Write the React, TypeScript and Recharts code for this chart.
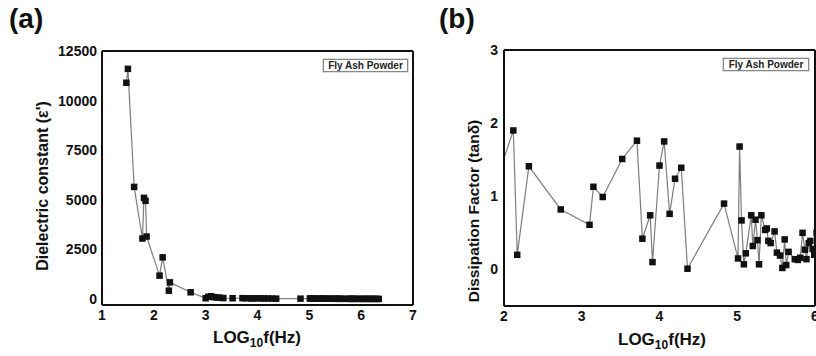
import { LineChart, Line, XAxis, YAxis } from 'recharts';

// (a) dielectric constant vs log frequency
const freqA = [
  1.47, 1.5, 1.62, 1.78, 1.81, 1.84, 1.86, 2.11, 2.17, 2.29, 2.31, 2.71,
  3.0, 3.05, 3.1, 3.15, 3.21, 3.27, 3.34, 3.52, 3.71, 3.78, 3.88, 3.91, 4.0,
  4.06, 4.13, 4.2, 4.28, 4.36, 4.83, 5.01, 5.03, 5.06, 5.09, 5.11, 5.18, 5.2,
  5.24, 5.26, 5.28, 5.31, 5.36, 5.4, 5.43, 5.48, 5.51, 5.55, 5.58, 5.61, 5.66,
  5.74, 5.78, 5.81, 5.84, 5.87, 5.92, 5.97, 6.02, 6.06, 6.1, 6.14, 6.18, 6.22,
  6.26, 6.3, 6.34,
];
const epsA = [
  10900, 11600, 5650, 3050, 5100, 4950, 3150, 1180, 2100, 420, 840, 340,
  40, 110, 140, 100, 80, 70, 50, 40, 45, 40, 35, 30, 40,
  35, 30, 30, 25, 20, 20, 25, 30, 25, 20, 20, 20, 18,
  18, 16, 16, 15, 15, 15, 14, 14, 13, 13, 12, 12, 12,
  11, 11, 11, 10, 10, 10, 10, 9, 9, 9, 8, 8, 8,
  8, 7, 7,
];

// (b) dissipation factor vs log frequency
const freqB = [
  1.9, 2.12, 2.17, 2.32, 2.73, 3.1, 3.15, 3.27, 3.52, 3.71, 3.78, 3.88, 3.91,
  4.0, 4.06, 4.13, 4.2, 4.28, 4.36, 4.83, 5.01, 5.03, 5.055, 5.085, 5.11, 5.18,
  5.2, 5.235, 5.26, 5.28, 5.31, 5.36, 5.38, 5.4, 5.43, 5.48, 5.51, 5.55, 5.58,
  5.61, 5.63, 5.66, 5.74, 5.78, 5.81, 5.84, 5.87, 5.89, 5.92, 5.94, 5.97, 5.99,
  6.02, 6.05,
];
const tanB = [
  1.2, 1.9, 0.2, 1.41, 0.82, 0.61, 1.13, 0.99, 1.51, 1.76, 0.42, 0.74, 0.1,
  1.42, 1.75, 0.76, 1.24, 1.39, 0.01, 0.9, 0.15, 1.68, 0.67, 0.07, 0.22, 0.74,
  0.32, 0.68, 0.4, 0.07, 0.74, 0.54, 0.56, 0.39, 0.36, 0.52, 0.23, 0.19, 0.02,
  0.41, 0.06, 0.24, 0.14, 0.13, 0.16, 0.5, 0.27, 0.14, 0.36, 0.39, 0.28, 0.2,
  0.5, 0.3,
];

const xTicksA = [1, 1.5, 2, 2.5, 3, 3.5, 4, 4.5, 5, 5.5, 6, 6.5, 7];
const xLabelsA = [1, 2, 3, 4, 5, 6, 7];
const yTicksA = [0, 1250, 2500, 3750, 5000, 6250, 7500, 8750, 10000, 11250, 12500];
const yLabelsA = [0, 2500, 5000, 7500, 10000, 12500];

const xTicksB = [2, 2.5, 3, 3.5, 4, 4.5, 5, 5.5, 6];
const xLabelsB = [2, 3, 4, 5, 6];
const yTicksB = [0, 0.5, 1, 1.5, 2, 2.5, 3];
const yLabelsB = [0, 1, 2, 3];

const FONT = '"Liberation Sans", Arial, sans-serif';
const frame = { stroke: '#111', strokeWidth: 2 };
const tickLn = { stroke: '#111', strokeWidth: 1.5 };
const tickFont = { fill: '#111', fontSize: 14, fontWeight: 700, fontFamily: FONT };

const Square = (props: any) => {
  const { cx, cy, index } = props;
  if (cx == null || cy == null) return <g key={index} />;
  return <rect key={index} x={cx - 3.25} y={cy - 3.25} width={6.5} height={6.5} fill="#111" />;
};

const only = (labels: number[]) => (v: number) => (labels.includes(v) ? String(v) : '');

function Panel(p: any) {
  const data = p.xs.map((x: number, i: number) => ({ x, y: p.ys[i] }));
  const xCommon = {
    dataKey: 'x', type: 'number' as const, domain: p.xDomain, allowDataOverflow: true,
    ticks: p.xTicks, interval: 0 as const, axisLine: frame,
  };
  const yCommon = {
    type: 'number' as const, domain: p.yDomain, allowDataOverflow: true,
    ticks: p.yTicks, interval: 0 as const, axisLine: frame,
  };
  return (
    <LineChart width={420} height={356} data={data} margin={p.margin}>
      {/* labelled axes */}
      <XAxis {...xCommon} xAxisId="b" tickFormatter={only(p.xLabels)}
        tickSize={0} tickMargin={5} height={30} tickLine={false} tick={tickFont} />
      <YAxis {...yCommon} yAxisId="l" tickFormatter={only(p.yLabels)}
        tickSize={0} tickMargin={p.yMargin} width={60} tickLine={false} tick={tickFont} />
      {/* mirrored axes: inward ticks on all four sides */}
      <XAxis {...xCommon} xAxisId="bm" mirror tick={false} tickSize={4} tickLine={tickLn} />
      <YAxis {...yCommon} yAxisId="lm" mirror tick={false} tickSize={4} tickLine={tickLn} />
      <XAxis {...xCommon} xAxisId="t" orientation="top" mirror tick={false} tickSize={4} tickLine={tickLn} />
      <YAxis {...yCommon} yAxisId="r" orientation="right" mirror tick={false} tickSize={4} tickLine={tickLn} />

      <Line xAxisId="bm" yAxisId="lm" dataKey="y" stroke="none" dot={false}
        activeDot={false} isAnimationActive={false} />
      <Line xAxisId="t" yAxisId="r" dataKey="y" stroke="none" dot={false}
        activeDot={false} isAnimationActive={false} />
      <Line
        xAxisId="b" yAxisId="l" dataKey="y" type="linear"
        stroke="#7d7d7d" strokeWidth={1.2} dot={Square} activeDot={false}
        isAnimationActive={false}
      />
    </LineChart>
  );
}

const boxStyle = {
  position: 'absolute' as const,
  height: 13,
  boxSizing: 'border-box' as const,
  border: '1px solid #888',
  boxShadow: '0 0 0 1px #ddd',
  background: '#fff',
  fontSize: 10,
  fontWeight: 700,
  lineHeight: '11px',
  textAlign: 'center' as const,
  color: '#222',
  whiteSpace: 'nowrap' as const,
};

const yTitle = {
  position: 'absolute' as const,
  transform: 'translate(-50%, -50%) rotate(-90deg)',
  fontWeight: 700,
  whiteSpace: 'nowrap' as const,
  color: '#111',
};

const xTitle = {
  position: 'absolute' as const,
  transform: 'translateX(-50%)',
  fontSize: 17,
  fontWeight: 700,
  lineHeight: '17px',
  whiteSpace: 'nowrap' as const,
  color: '#111',
};

const sub = { fontSize: 12, position: 'relative' as const, top: 4 };
const letter = {
  position: 'absolute' as const, top: 5, fontSize: 28, fontWeight: 700,
  lineHeight: '28px', color: '#111',
};

export default function App() {
  return (
    <div
      style={{
        position: 'absolute', left: 0, top: 0, width: 816, height: 356,
        overflow: 'hidden', background: '#fff', fontFamily: FONT,
      }}
    >
      <div style={{ position: 'absolute', left: 0, top: 0 }}>
        <Panel
          xs={freqA} ys={epsA}
          margin={{ top: 51, right: 7, bottom: 21, left: 42 }}
          xDomain={[1, 7]} yDomain={[-300, 12500]}
          xTicks={xTicksA} xLabels={xLabelsA} yTicks={yTicksA} yLabels={yLabelsA}
          yMargin={5}
        />
      </div>
      <div style={{ position: 'absolute', left: 420, top: 0 }}>
        <Panel
          xs={freqB} ys={tanB}
          margin={{ top: 50, right: 25, bottom: 20, left: 24 }}
          xDomain={[2, 6]} yDomain={[-0.5, 3]}
          xTicks={xTicksB} xLabels={xLabelsB} yTicks={yTicksB} yLabels={yLabelsB}
          yMargin={6}
        />
      </div>

      <div style={{ ...letter, left: 9 }}>(a)</div>
      <div style={{ ...letter, left: 439 }}>(b)</div>

      <div style={{ ...boxStyle, left: 323, top: 59, width: 85 }}>Fly Ash Powder</div>
      <div style={{ ...boxStyle, left: 723, top: 58, width: 86 }}>Fly Ash Powder</div>

      <div style={{ ...yTitle, fontSize: 16, left: 43, top: 186 }}>Dielectric constant (ε')</div>
      <div style={{ ...yTitle, fontSize: 15.5, left: 474, top: 211 }}>Dissipation Factor (tanδ)</div>

      <div style={{ ...xTitle, left: 257, top: 329 }}>
        LOG<span style={sub}>10</span>f(Hz)
      </div>
      <div style={{ ...xTitle, left: 662, top: 331 }}>
        LOG<span style={sub}>10</span>f(Hz)
      </div>
    </div>
  );
}
